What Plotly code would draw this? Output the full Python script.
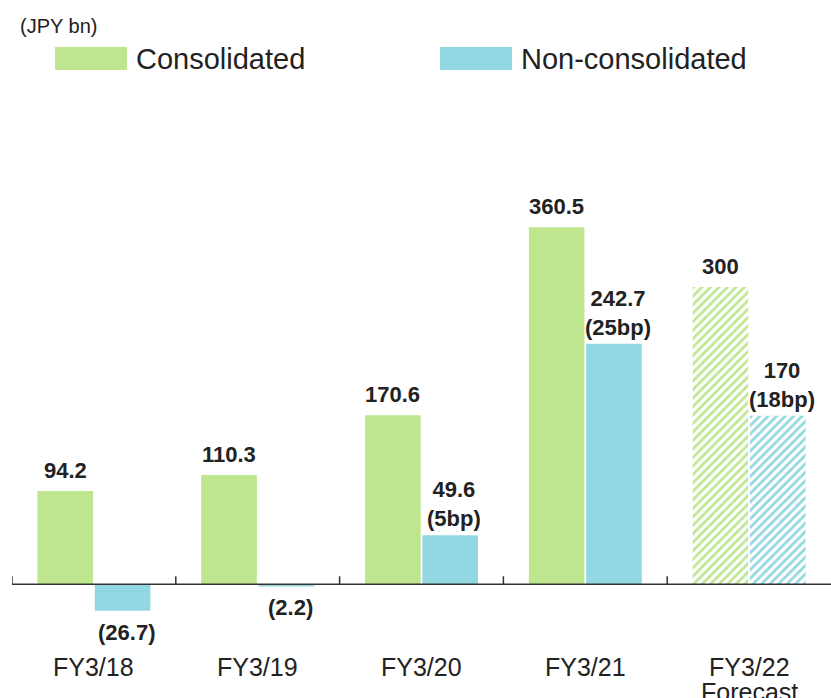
import plotly.graph_objects as go

# ---- data -------------------------------------------------------------
categories = ["FY3/18", "FY3/19", "FY3/20", "FY3/21", "FY3/22"]
category_sublabels = ["", "", "", "", "Forecast"]
consolidated = [94.2, 110.3, 170.6, 360.5, 300]
non_consolidated = [-26.7, -2.2, 49.6, 242.7, 170]
non_consolidated_bp = ["", "", "5bp", "25bp", "18bp"]
is_forecast = [False, False, False, False, True]
series_names = ["Consolidated", "Non-consolidated"]
unit_label = "(JPY bn)"

# ---- styling ----------------------------------------------------------
GREEN = "#BEE68F"
BLUE = "#93D7E3"
TEXT = "#222222"
AXIS = "#333333"
FONT = "Liberation Sans, Arial, sans-serif"

W, H = 831, 698
ML, MR, MT, MB = 12, 0, 188, 84
Y_MIN, Y_MAX = -30, 400
PLOT_H = H - MT - MB
PLOT_W = W - ML - MR
PX_PER_UNIT = PLOT_H / (Y_MAX - Y_MIN)


def py_paper(py):
    """Paper-space y for a vertical pixel position on the page."""
    return (MT + PLOT_H - py) / PLOT_H


def px_paper(px):
    """Paper-space x for a horizontal pixel position on the page."""
    return (px - ML) / PLOT_W


def fmt(v):
    s = f"{abs(v):g}"
    return f"({s})" if v < 0 else s


def bar_trace(name, values, color):
    return go.Bar(
        name=name,
        x=categories,
        y=values,
        marker=dict(
            color=color,
            line=dict(width=0),
            pattern=dict(
                shape=["/" if f else "" for f in is_forecast],
                fgcolor=color,
                bgcolor="white",
                fillmode="replace",
                size=6,
                solidity=0.45,
            ),
        ),
        showlegend=False,
        hoverinfo="x+y+name",
    )


fig = go.Figure()
fig.add_trace(bar_trace(series_names[0], consolidated, GREEN))
fig.add_trace(bar_trace(series_names[1], non_consolidated, BLUE))

BAR_GAP = 0.30
BAR_GROUP_GAP = 0.03
half = (1 - BAR_GAP) / 4  # centre offset of each bar inside its group

annotations = []
label_font = dict(family=FONT, size=22, color=TEXT, weight="bold")

# value labels
for i, v in enumerate(consolidated):
    annotations.append(dict(
        x=i - half, y=v, xref="x", yref="y", text=fmt(v), showarrow=False,
        yanchor="bottom" if v >= 0 else "top", yshift=6 if v >= 0 else -8,
        font=label_font,
    ))
for i, v in enumerate(non_consolidated):
    txt = fmt(v)
    if non_consolidated_bp[i]:
        txt += f"<br>({non_consolidated_bp[i]})"
    two_line = "<br>" in txt
    annotations.append(dict(
        x=i + half, y=v, xref="x", yref="y", text=txt, showarrow=False,
        xshift=4,
        yanchor="bottom" if v >= 0 else "top",
        yshift=(2 if two_line else 6) if v >= 0 else -7,
        font=label_font,
    ))

# category labels under the axis
cat_font = dict(family=FONT, size=25, color=TEXT)
for i, c in enumerate(categories):
    annotations.append(dict(
        x=i, y=py_paper(667), xref="x", yref="paper", text=c,
        showarrow=False, yanchor="middle", font=cat_font,
    ))
    if category_sublabels[i]:
        annotations.append(dict(
            x=i, y=py_paper(692), xref="x", yref="paper",
            text=category_sublabels[i], showarrow=False,
            yanchor="middle", font=cat_font,
        ))

# unit and legend
annotations.append(dict(
    x=px_paper(18), y=py_paper(26), xref="paper", yref="paper",
    text=unit_label, showarrow=False, xanchor="left", yanchor="middle",
    font=dict(family=FONT, size=20, color=TEXT),
))
legend_items = [(series_names[0], GREEN, 55), (series_names[1], BLUE, 440)]
shapes = []
for name, color, left in legend_items:
    shapes.append(dict(
        type="rect", xref="paper", yref="paper",
        x0=px_paper(left), x1=px_paper(left + 72),
        y0=py_paper(70), y1=py_paper(47),
        fillcolor=color, line=dict(width=0),
    ))
    annotations.append(dict(
        x=px_paper(left + 79), y=py_paper(58.5), xref="paper", yref="paper",
        text=name, showarrow=False, xanchor="left", yanchor="middle",
        font=dict(family=FONT, size=29, color=TEXT),
    ))

# baseline and boundary ticks
shapes.append(dict(
    type="line", xref="paper", yref="y", x0=0, x1=1, y0=0, y1=0,
    line=dict(color=AXIS, width=1.5),
))
for k in range(len(categories)):
    shapes.append(dict(
        type="line", xref="x", yref="y", x0=k - 0.5, x1=k - 0.5,
        y0=0, y1=8 / PX_PER_UNIT, line=dict(color=AXIS, width=1.5),
    ))

fig.update_layout(
    width=W, height=H,
    margin=dict(l=ML, r=MR, t=MT, b=MB, pad=0),
    paper_bgcolor="white", plot_bgcolor="white",
    barmode="group", bargap=BAR_GAP, bargroupgap=BAR_GROUP_GAP,
    xaxis=dict(
        type="category", range=[-0.5, len(categories) - 0.5],
        showticklabels=False, showgrid=False, zeroline=False,
        showline=False, ticks="", fixedrange=True,
    ),
    yaxis=dict(
        range=[Y_MIN, Y_MAX], visible=False, showgrid=False,
        zeroline=False, fixedrange=True,
    ),
    annotations=annotations,
    shapes=shapes,
    font=dict(family=FONT, color=TEXT),
)

fig.write_html("out.html")
